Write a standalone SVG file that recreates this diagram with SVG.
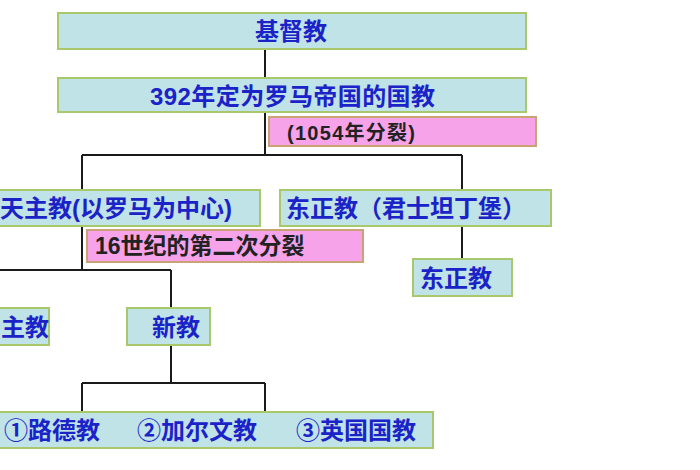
<svg xmlns="http://www.w3.org/2000/svg" width="700" height="470" viewBox="0 0 700 470">
<style>
.b{fill:#bfe3e6;stroke:#a9c86c;stroke-width:2}
.p{fill:#f6a3e9;stroke:#c9a373;stroke-width:2}
.t{font-family:"Liberation Sans","Noto Sans CJK SC",sans-serif;font-weight:bold;font-size:24px;fill:#1a22c8}
.k{font-family:"Liberation Sans","Noto Sans CJK SC",sans-serif;font-weight:bold;fill:#222}
.c{fill:none;stroke:#1a1a1a;stroke-width:2}
</style>
<rect width="700" height="470" fill="#fff"/>
<g id="connectors">
<path class="c" d="M265,49V78"/>
<path class="c" d="M265,112V155M82,155H462M82,155V190M462,155V190"/>
<path class="c" d="M82,226V270M-5,270H171M171,270V308"/>
<path class="c" d="M462,226V259"/>
<path class="c" d="M171,345V383M82,383H265M82,383V412M265,383V412"/>
</g>
<g id="christianity">
<rect class="b" x="58" y="13" width="468" height="36"/>
<text class="t" x="291" y="40" text-anchor="middle">基督教</text>
</g>
<g id="state-religion">
<rect class="b" x="58" y="78" width="468" height="34"/>
<text class="t" x="150" y="105" textLength="285" lengthAdjust="spacing">392年定为罗马帝国的国教</text>
</g>
<g id="schism1054">
<rect class="p" x="269" y="117" width="267" height="29"/>
<text class="k" x="287" y="139.5" font-size="20" textLength="128" lengthAdjust="spacing">(1054年分裂)</text>
</g>
<g id="catholic">
<rect class="b" x="-10" y="190" width="270" height="36"/>
<text class="t" x="0" y="217">天主教(以罗马为中心)</text>
</g>
<g id="orthodox-constantinople">
<rect class="b" x="280" y="190" width="271" height="36"/>
<text class="t" x="286" y="217">东正教（君士坦丁堡）</text>
</g>
<g id="schism16">
<rect class="p" x="87" y="230" width="276" height="32"/>
<text class="k" x="95" y="254" font-size="23">16世纪的第二次分裂</text>
</g>
<g id="orthodox">
<rect class="b" x="413" y="259" width="99" height="37"/>
<text class="t" x="420" y="287">东正教</text>
</g>
<g id="catholic2">
<rect class="b" x="-10" y="308" width="59" height="37"/>
<text class="t" x="1" y="336" font-size="22">主教</text>
</g>
<g id="protestant">
<rect class="b" x="127" y="308" width="83" height="37"/>
<text class="t" x="176" y="336" text-anchor="middle">新教</text>
</g>
<g id="denominations">
<rect class="b" x="-10" y="412" width="443" height="36"/>
<text class="t" x="4" y="439">①路德教</text>
<text class="t" x="137" y="439">②加尔文教</text>
<text class="t" x="296" y="439">③英国国教</text>
</g>
</svg>
